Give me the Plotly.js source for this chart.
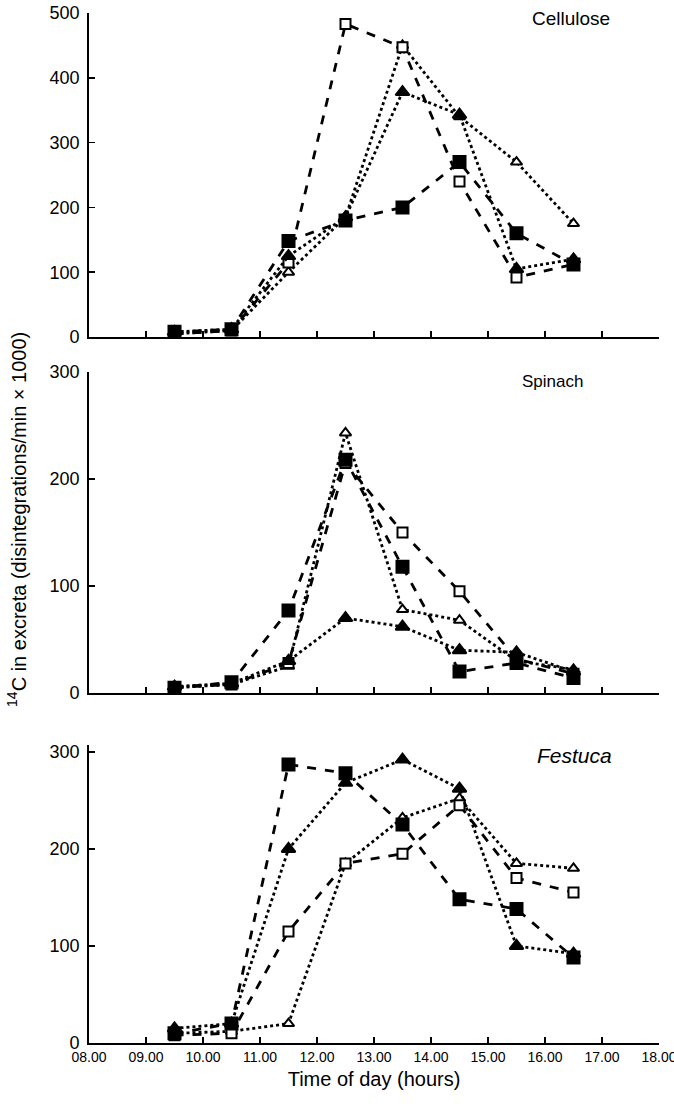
<!DOCTYPE html>
<html>
<head>
<meta charset="utf-8">
<script src="https://cdn.plot.ly/plotly-3.0.1.min.js"></script>
<style>html,body{margin:0;padding:0;background:#fff;}#chart{width:674px;height:1113px;}</style>
</head>
<body>
<div id="chart"></div>
<script>
// Time of day (hours) for each sample
const hours = [9.5, 10.5, 11.5, 12.5, 13.5, 14.5, 15.5, 16.5];

// Cellulose panel
const celOpenSquare   = [5, 10, 115, 483, 447, 240, 92, 112];
const celFilledSquare = [8, 12, 148, 180, 200, 270, 160, 112];
const celFilledTri    = [8, 12, 125, 185, 378, 343, 105, 120];
const celOpenTri      = [5, 10, 100, 185, 450, 340, 270, 175];

// Spinach panel
const spOpenSquare   = [5, 8, 28, 215, 150, 95, 32, 18];
const spFilledSquare = [5, 10, 77, 218, 118, 20, 28, 14];
const spFilledTri    = [6, 9, 30, 70, 62, 40, 38, 20];
const spOpenTri      = [5, 8, 25, 243, 78, 68, 30, 22];

// Festuca panel
const feOpenSquare   = [8, 10, 115, 185, 195, 245, 170, 155];
const feFilledSquare = [10, 20, 287, 278, 225, 148, 138, 88];
const feFilledTri    = [15, 20, 200, 268, 292, 262, 100, 92];
const feOpenTri      = [10, 12, 20, 185, 232, 252, 185, 180];

// Axis tick labels
const xTickVals = [8, 9, 10, 11, 12, 13, 14, 15, 16, 17, 18];
const xTickText = ["08.00","09.00","10.00","11.00","12.00","13.00","14.00","15.00","16.00","17.00","18.00"];
const panelNames = ["Cellulose", "Spinach", "<i>Festuca</i>"];

const styles = {
  openSquare:   {symbol: "square",      dash: "dash", open: true},
  filledSquare: {symbol: "square",      dash: "dash", open: false},
  filledTri:    {symbol: "triangle-up", dash: "dot",  open: false},
  openTri:      {symbol: "triangle-up", dash: "dot",  open: true}
};

function tr(y, key, ax) {
  const s = styles[key];
  return {
    x: hours, y: y, xaxis: "x" + ax, yaxis: "y" + ax,
    type: "scatter", mode: "lines+markers", showlegend: false,
    line: {color: "#000", width: 2.8, dash: s.dash},
    marker: {
      symbol: s.symbol,
      size: s.open ? 10 : 12,
      color: s.open ? "#fff" : "#000",
      line: {color: "#000", width: 2}
    }
  };
}

const data = [
  tr(celOpenTri, "openTri", ""), tr(celOpenSquare, "openSquare", ""),
  tr(celFilledSquare, "filledSquare", ""), tr(celFilledTri, "filledTri", ""),
  tr(spOpenTri, "openTri", "2"), tr(spOpenSquare, "openSquare", "2"),
  tr(spFilledSquare, "filledSquare", "2"), tr(spFilledTri, "filledTri", "2"),
  tr(feOpenTri, "openTri", "3"), tr(feOpenSquare, "openSquare", "3"),
  tr(feFilledSquare, "filledSquare", "3"), tr(feFilledTri, "filledTri", "3")
];

const FAM = "Liberation Sans, Arial, sans-serif";
function xax(anchor, showLabels) {
  return {
    anchor: anchor, domain: [0, 1], range: [8, 18],
    tickvals: xTickVals, ticktext: xTickText, showticklabels: showLabels,
    ticklabeloverflow: "allow",
    ticks: "inside", ticklen: 6, tickwidth: 1.5, tickcolor: "#000",
    showline: true, linecolor: "#000", linewidth: 1.8,
    showgrid: false, zeroline: false,
    tickfont: {family: FAM, size: 14, color: "#000"}
  };
}
function yax(anchor, domain, range, tv) {
  return {
    anchor: anchor, domain: domain, range: range, tickvals: tv,
    ticks: "inside", ticklen: 6, tickwidth: 1.5, tickcolor: "#000",
    showline: true, linecolor: "#000", linewidth: 1.8,
    showgrid: false, zeroline: false,
    tickfont: {family: FAM, size: 18, color: "#000"}, ticklabelstandoff: 4
  };
}

const layout = {
  width: 674, height: 1113,
  margin: {l: 89, r: 15, t: 13, b: 70},
  paper_bgcolor: "#fff", plot_bgcolor: "#fff",
  font: {family: FAM, color: "#000"},
  xaxis: xax("y", false),
  yaxis: yax("x", [0.6854, 1.0], [0, 500], [0, 100, 200, 300, 400, 500]),
  xaxis2: xax("y2", false),
  yaxis2: yax("x2", [0.3398, 0.6515], [0, 300], [0, 100, 200, 300]),
  xaxis3: Object.assign(xax("y3", true), {
    title: {text: "Time of day (hours)", font: {family: FAM, size: 20, color: "#000"}, standoff: 8}
  }),
  yaxis3: yax("x3", [0, 0.2893], [0, 307], [0, 100, 200, 300]),
  annotations: [
    {text: panelNames[0], xref: "paper", yref: "paper", x: 0.845, y: 0.995, showarrow: false,
     font: {family: FAM, size: 19, color: "#000"}, xanchor: "center", yanchor: "middle"},
    {text: panelNames[1], xref: "paper", yref: "paper", x: 0.814, y: 0.642, showarrow: false,
     font: {family: FAM, size: 17, color: "#000"}, xanchor: "center", yanchor: "middle"},
    {text: panelNames[2], xref: "paper", yref: "paper", x: 0.852, y: 0.279, showarrow: false,
     font: {family: FAM, size: 21, color: "#000"}, xanchor: "center", yanchor: "middle"},
    {text: "<sup>14</sup>C in excreta (disintegrations/min × 1000)", xref: "paper", yref: "paper",
     x: -0.126, y: 0.508, textangle: -90, showarrow: false, xanchor: "center", yanchor: "middle",
     font: {family: FAM, size: 20, color: "#000"}}
  ]
};

Plotly.newPlot("chart", data, layout, {displayModeBar: false, staticPlot: true});
</script>
</body>
</html>
